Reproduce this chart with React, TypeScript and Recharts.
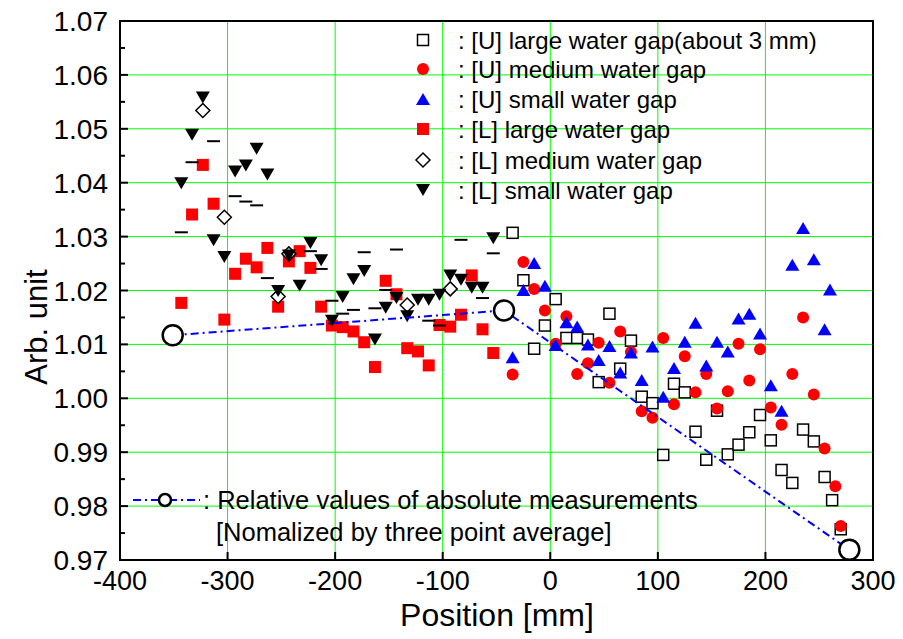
import { CartesianGrid, Customized, ReferenceArea, Scatter, ScatterChart, XAxis, YAxis } from 'recharts'

type Pair = [number, number]

// [U] series as [position mm, value]
const uLarge: Pair[] = [
  [-35, 1.0307], [-25, 1.0219], [-15, 1.0092], [-5, 1.0135], [5, 1.0184], [15, 1.0112],
  [25, 1.0112], [35, 1.0109], [45, 1.003], [55, 1.0157], [65, 1.0055], [75, 1.0107],
  [85, 1.0003], [95, 0.9991], [105, 0.9895], [115, 1.0027], [125, 1.0011], [135, 0.9938],
  [145, 0.9886], [155, 0.9977], [165, 0.9896], [175, 0.9914], [185, 0.9937], [195, 0.9969],
  [205, 0.9922], [215, 0.9867], [225, 0.9843], [235, 0.9942], [245, 0.992], [255, 0.9854],
  [262, 0.9811], [270, 0.9757],
]

const uMedium: Pair[] = [
  [-35, 1.0044], [-25, 1.0253], [-15, 1.0203], [-5, 1.0163], [5, 1.0101], [15, 1.0152],
  [25, 1.0045], [35, 1.0065], [45, 1.0103], [55, 1.0029], [65, 1.0124], [75, 1.0086],
  [85, 0.9976], [95, 0.9964], [105, 1.0112], [115, 0.9989], [125, 1.0078], [135, 1.0011],
  [145, 1.0045], [155, 0.9981], [165, 1.0013], [175, 1.0101], [185, 1.0033], [195, 1.0091],
  [205, 0.9983], [215, 0.9951], [225, 1.0045], [235, 1.015], [245, 1.0007], [255, 0.9907],
  [265, 0.9837], [270, 0.9763],
]

const uSmall: Pair[] = [
  [-35, 1.0076], [-25, 1.0201], [-15, 1.0251], [-5, 1.0209], [5, 1.0099], [15, 1.0141],
  [25, 1.0133], [35, 1.01], [45, 1.0071], [55, 1.0097], [65, 1.0048], [75, 1.0085],
  [85, 1.0034], [95, 1.0096], [105, 1.0003], [115, 1.0056], [125, 1.0105], [135, 1.014],
  [145, 1.0061], [155, 1.0105], [165, 1.0087], [175, 1.0148], [185, 1.0157], [195, 1.012],
  [205, 1.0024], [215, 0.9977], [225, 1.0248], [235, 1.0316], [245, 1.0258], [255, 1.0128],
  [260, 1.0202],
]

// [L] series
const lLarge: Pair[] = [
  [-343, 1.0177], [-333, 1.0341], [-323, 1.0433], [-313, 1.0361], [-303, 1.0146], [-293, 1.0231],
  [-283, 1.0259], [-273, 1.0243], [-263, 1.0279], [-253, 1.017], [-243, 1.0254], [-233, 1.0273],
  [-223, 1.0242], [-213, 1.017], [-203, 1.0135], [-193, 1.0132], [-183, 1.0124], [-173, 1.0104],
  [-163, 1.0058], [-153, 1.0218], [-143, 1.0193], [-133, 1.0093], [-123, 1.0087], [-113, 1.0061],
  [-103, 1.0136], [-93, 1.0133], [-83, 1.0155], [-73, 1.0228], [-63, 1.0128], [-53, 1.0084],
]

const lMedium: Pair[] = [
  [-323, 1.0534], [-303, 1.0336], [-253, 1.0189], [-243, 1.0268], [-133, 1.0173], [-93, 1.0203],
]

const lSmall: Pair[] = [
  [-343, 1.0399], [-333, 1.0489], [-323, 1.0558], [-313, 1.0293], [-303, 1.0262], [-293, 1.0421],
  [-283, 1.0432], [-273, 1.0463], [-263, 1.0415], [-253, 1.0199], [-243, 1.0265], [-233, 1.0209],
  [-223, 1.0288], [-213, 1.0256], [-203, 1.0144], [-193, 1.0188], [-183, 1.0221], [-173, 1.0236],
  [-163, 1.0109], [-153, 1.0168], [-143, 1.0186], [-133, 1.0152], [-123, 1.0183], [-113, 1.0183],
  [-103, 1.0192], [-93, 1.0228], [-83, 1.022], [-73, 1.0205], [-63, 1.0205], [-53, 1.0297],
]

// short horizontal dash markers (no legend entry)
const lDash: Pair[] = [
  [-343, 1.0308], [-333, 1.0438], [-313, 1.0477], [-293, 1.0375], [-283, 1.0365], [-273, 1.0358],
  [-263, 1.0223], [-223, 1.0273], [-213, 1.024], [-203, 1.0181], [-193, 1.0157], [-183, 1.0164],
  [-173, 1.0271], [-163, 1.0167], [-153, 1.0201], [-143, 1.0276], [-113, 1.0144], [-103, 1.0135],
  [-83, 1.0294], [-63, 1.0186], [-53, 1.0269],
]

const absolute: Pair[] = [[-351, 1.0117], [-43, 1.0163], [278, 0.9719]]

const xTicks = [-400, -300, -200, -100, 0, 100, 200, 300]
const yMajor = [0.97, 0.98, 0.99, 1.0, 1.01, 1.02, 1.03, 1.04, 1.05, 1.06, 1.07]
const yTicks = [
  0.97, 0.975, 0.98, 0.985, 0.99, 0.995, 1.0, 1.005, 1.01, 1.015, 1.02,
  1.025, 1.03, 1.035, 1.04, 1.045, 1.05, 1.055, 1.06, 1.065, 1.07,
]

const legendLabels = [
  ': [U] large water gap(about 3 mm)',
  ': [U] medium water gap',
  ': [U] small water gap',
  ': [L] large water gap',
  ': [L] medium water gap',
  ': [L] small water gap',
]
const absoluteLabels = [': Relative values of absolute measurements', '[Nomalized by three point average]']

const font = '"Liberation Sans", Arial, sans-serif'
const toPoints = (arr: Pair[]) => arr.map(([x, y]) => ({ x, y }))

const OpenSquare = ({ cx, cy }: any) => (
  <rect x={cx - 5.5} y={cy - 5.5} width={11} height={11} fill="#fff" stroke="#000" strokeWidth={1.5} />
)
const RedDot = ({ cx, cy }: any) => <circle cx={cx} cy={cy} r={6} fill="#ff0000" />
const BlueUp = ({ cx, cy }: any) => (
  <polygon points={`${cx},${cy - 6} ${cx + 7},${cy + 6} ${cx - 7},${cy + 6}`} fill="#0000ff" />
)
const RedSquare = ({ cx, cy }: any) => <rect x={cx - 6} y={cy - 6} width={12} height={12} fill="#ff0000" />
const OpenDiamond = ({ cx, cy }: any) => (
  <polygon
    points={`${cx},${cy - 7} ${cx + 7},${cy} ${cx},${cy + 7} ${cx - 7},${cy}`}
    fill="#fff"
    stroke="#000"
    strokeWidth={1.5}
  />
)
const BlackDown = ({ cx, cy }: any) => (
  <polygon points={`${cx - 7},${cy - 6} ${cx + 7},${cy - 6} ${cx},${cy + 6}`} fill="#000" />
)
const Dash = ({ cx, cy }: any) => <line x1={cx - 6.5} x2={cx + 6.5} y1={cy} y2={cy} stroke="#000" strokeWidth={2} />
const BigCircle = ({ cx, cy }: any) => <circle cx={cx} cy={cy} r={10} fill="#fff" stroke="#000" strokeWidth={2.5} />

const legendMarkers = [OpenSquare, RedDot, BlueUp, RedSquare, OpenDiamond, BlackDown]
const legendRows = [40, 69, 99, 129, 160, 190]
const dashDot = '8 4 2 4'

function YTick({ x, y, payload }: any) {
  const major = Math.round(payload.value * 1000) % 10 === 0
  return (
    <g>
      <line x1={x} x2={x + (major ? 8 : 5)} y1={y} y2={y} stroke="#000" strokeWidth={2} />
      {major && (
        <text x={x - 12} y={y + 10} textAnchor="end" fontSize={28} fontFamily={font} fill="#000">
          {payload.value.toFixed(2)}
        </text>
      )}
    </g>
  )
}

function XTick({ x, y, payload }: any) {
  return (
    <g>
      <line x1={x} x2={x} y1={y} y2={y - 8} stroke="#000" strokeWidth={2} />
      <text x={x} y={y + 30} textAnchor="middle" fontSize={27} fontFamily={font} fill="#000">
        {payload.value}
      </text>
    </g>
  )
}

function Legends() {
  return (
    <g fontFamily={font} fontSize={24} fill="#000">
      {legendLabels.map((label, i) => {
        const Marker = legendMarkers[i]
        return (
          <g key={label}>
            <Marker cx={423} cy={legendRows[i]} />
            <text x={458} y={legendRows[i] + 8.5}>
              {label}
            </text>
          </g>
        )
      })}
      <line x1={133} x2={200} y1={500} y2={500} stroke="#0000ff" strokeWidth={2} strokeDasharray={dashDot} />
      <circle cx={165} cy={500} r={6} fill="#fff" stroke="#000" strokeWidth={2.5} />
      <text x={203} y={509} fontSize={25.5}>
        {absoluteLabels[0]}
      </text>
      <text x={216} y={541} fontSize={25.5}>
        {absoluteLabels[1]}
      </text>
      <text x={497} y={626} textAnchor="middle" fontSize={32}>
        Position [mm]
      </text>
      <text x={47} y={327} textAnchor="middle" fontSize={31} transform="rotate(-90 47 327)">
        Arb. unit
      </text>
    </g>
  )
}

export default function App() {
  return (
    <div style={{ position: 'absolute', left: 0, top: 0 }}>
      <ScatterChart width={903} height={639} margin={{ top: 21, right: 30, bottom: 0, left: 0 }}>
        <CartesianGrid stroke="#00ff00" strokeWidth={1} horizontalValues={yMajor} verticalValues={xTicks} />
        <XAxis
          type="number"
          dataKey="x"
          domain={[-400, 300]}
          ticks={xTicks}
          interval={0}
          height={79}
          tickSize={0}
          tickMargin={0}
          axisLine={false}
          tickLine={false}
          tick={<XTick />}
        />
        <YAxis
          type="number"
          dataKey="y"
          domain={[0.97, 1.07]}
          ticks={yTicks}
          interval={0}
          width={120}
          tickSize={0}
          tickMargin={0}
          axisLine={false}
          tickLine={false}
          tick={<YTick />}
        />
        <Scatter data={toPoints(uLarge)} shape={OpenSquare} isAnimationActive={false} />
        <Scatter data={toPoints(uMedium)} shape={RedDot} isAnimationActive={false} />
        <Scatter data={toPoints(uSmall)} shape={BlueUp} isAnimationActive={false} />
        <Scatter data={toPoints(lLarge)} shape={RedSquare} isAnimationActive={false} />
        <Scatter data={toPoints(lMedium)} shape={OpenDiamond} isAnimationActive={false} />
        <Scatter data={toPoints(lSmall)} shape={BlackDown} isAnimationActive={false} />
        <Scatter data={toPoints(lDash)} shape={Dash} isAnimationActive={false} />
        <Scatter
          data={toPoints(absolute)}
          shape={BigCircle}
          line={{ stroke: '#0000ff', strokeWidth: 2, strokeDasharray: dashDot }}
          isAnimationActive={false}
        />
        <ReferenceArea x1={-400} x2={300} y1={0.97} y2={1.07} fill="none" stroke="#000" strokeWidth={2} />
        <Customized component={<Legends />} />
      </ScatterChart>
    </div>
  )
}
